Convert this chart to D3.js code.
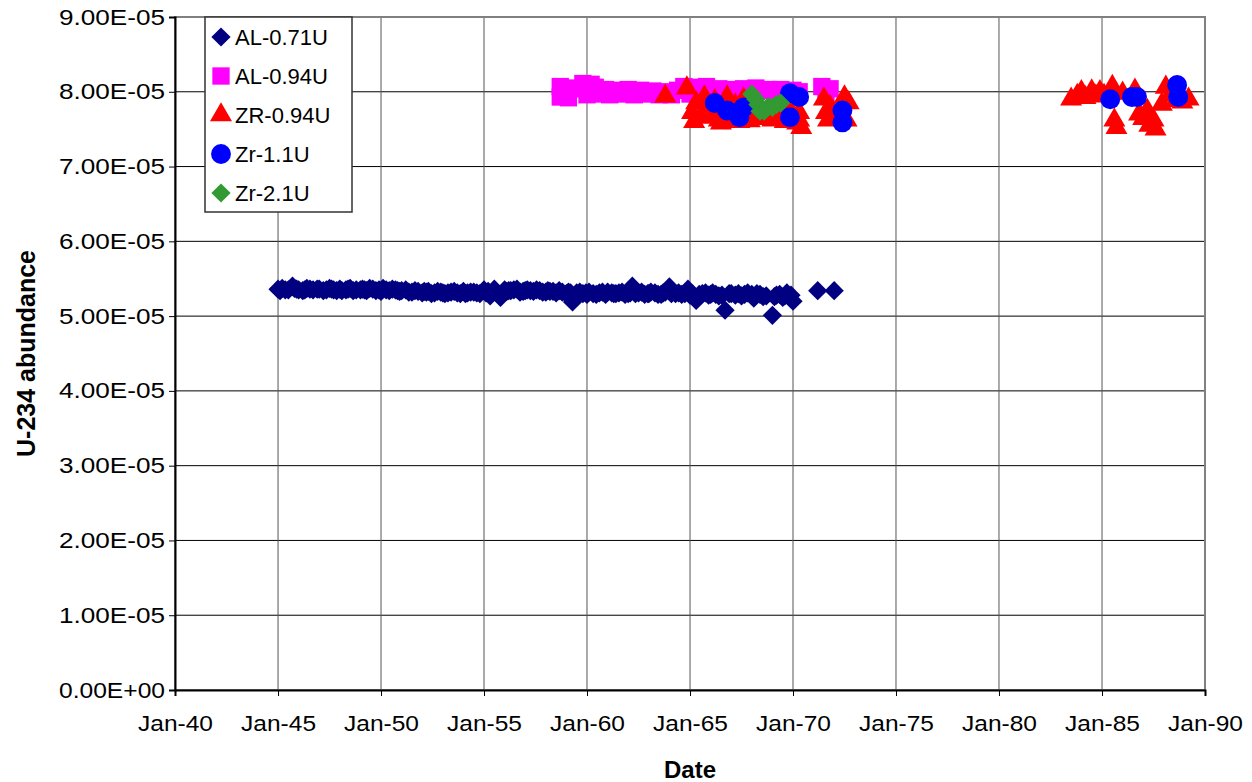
<!DOCTYPE html>
<html>
<head>
<meta charset="utf-8">
<script src="https://cdn.jsdelivr.net/npm/d3@7/dist/d3.min.js"></script>
<style>
body { margin: 0; background: #fff; }
text { font-family: "Liberation Sans", Arial, sans-serif; fill: #000; }
</style>
</head>
<body>
<script>
// values are U-234 abundance in units of 1e-5, dates as decimal years
const al071Years = [
  1945.0, 1945.2, 1945.5, 1945.7, 1945.9, 1946.2, 1946.4, 1946.7, 1946.9, 1947.2,
  1947.5, 1947.7, 1948.0, 1948.3, 1948.5, 1948.8, 1949.1, 1949.3, 1949.6, 1949.9,
  1950.1, 1950.4, 1950.7, 1950.9, 1951.2, 1951.5, 1951.8, 1952.0, 1952.3, 1952.6,
  1952.9, 1953.1, 1953.4, 1953.7, 1954.0, 1954.2, 1954.5, 1954.8, 1955.0, 1955.3,
  1955.5, 1955.8, 1956.0, 1956.3, 1956.6, 1956.9, 1957.1, 1957.4, 1957.7, 1958.0,
  1958.2, 1958.5, 1958.8, 1959.0, 1959.3, 1959.5, 1959.8, 1960.1, 1960.3, 1960.6,
  1960.9, 1961.2, 1961.4, 1961.7, 1962.0, 1962.2, 1962.5, 1962.8, 1963.0, 1963.3,
  1963.6, 1963.8, 1964.0, 1964.3, 1964.6, 1964.9, 1965.1, 1965.3, 1965.6, 1965.9,
  1966.1, 1966.4, 1966.7, 1966.9, 1967.2, 1967.5, 1967.8, 1968.1, 1968.4, 1968.7,
  1969.0, 1969.2, 1969.5, 1969.7, 1970.0, 1971.2, 1972.0,
  1945.1, 1946.0, 1947.0, 1948.1, 1949.0, 1950.0, 1951.0, 1952.1, 1953.0, 1954.1,
  1955.1, 1956.1, 1957.0, 1958.1, 1959.1, 1960.0, 1961.0, 1962.1, 1963.1, 1964.1,
  1965.0, 1966.0, 1967.0, 1968.0, 1969.1, 1969.9,
  1945.35, 1945.8, 1946.3, 1946.55, 1947.35, 1947.6, 1947.85, 1948.4, 1948.65, 1949.2,
  1949.45, 1949.75, 1950.25, 1950.55, 1950.8, 1951.35, 1951.65, 1952.2, 1952.45, 1952.75,
  1953.25, 1953.55, 1953.85, 1954.35, 1954.65, 1955.2, 1955.65, 1956.2, 1956.45, 1956.75,
  1957.25, 1957.55, 1957.85, 1958.35, 1958.65, 1959.2, 1959.65, 1959.95, 1960.45, 1960.75,
  1961.3, 1961.55, 1961.85, 1962.35, 1962.65, 1962.95, 1963.45, 1963.7, 1964.45, 1964.75,
  1965.45, 1965.75, 1966.25, 1966.55, 1967.35, 1967.65, 1968.25, 1968.55, 1969.35, 1969.6
];
const al071Values = [
  5.36, 5.37, 5.35, 5.40, 5.36, 5.34, 5.37, 5.35, 5.36, 5.34,
  5.37, 5.35, 5.36, 5.35, 5.37, 5.35, 5.36, 5.34, 5.36, 5.35,
  5.37, 5.34, 5.35, 5.33, 5.35, 5.32, 5.33, 5.31, 5.33, 5.31,
  5.32, 5.30, 5.32, 5.31, 5.33, 5.31, 5.32, 5.30, 5.35, 5.27,
  5.36, 5.25, 5.35, 5.34, 5.36, 5.33, 5.35, 5.33, 5.34, 5.32,
  5.33, 5.31, 5.32, 5.30, 5.19, 5.31, 5.30, 5.32, 5.30, 5.31,
  5.29, 5.31, 5.30, 5.32, 5.30, 5.40, 5.31, 5.29, 5.30, 5.31,
  5.29, 5.32, 5.39, 5.30, 5.29, 5.36, 5.30, 5.21, 5.30, 5.28,
  5.31, 5.27, 5.08, 5.30, 5.28, 5.27, 5.31, 5.24, 5.29, 5.27,
  5.01, 5.28, 5.25, 5.31, 5.20, 5.34, 5.34,
  5.34, 5.35, 5.36, 5.34, 5.35, 5.33, 5.34, 5.33, 5.31, 5.30,
  5.31, 5.33, 5.34, 5.34, 5.32, 5.29, 5.32, 5.31, 5.32, 5.30,
  5.28, 5.29, 5.30, 5.29, 5.26, 5.28,
  5.35, 5.37, 5.35, 5.36, 5.35, 5.36, 5.34, 5.36, 5.34, 5.35,
  5.37, 5.34, 5.35, 5.36, 5.34, 5.32, 5.34, 5.32, 5.30, 5.33,
  5.31, 5.33, 5.30, 5.32, 5.31, 5.33, 5.30, 5.34, 5.35, 5.32,
  5.34, 5.35, 5.32, 5.33, 5.34, 5.31, 5.32, 5.31, 5.29, 5.32,
  5.30, 5.31, 5.29, 5.30, 5.32, 5.30, 5.29, 5.31, 5.31, 5.30,
  5.29, 5.31, 5.29, 5.28, 5.30, 5.29, 5.30, 5.26, 5.29, 5.27
];

const al094Years = [
  1958.7, 1958.7, 1959.0, 1959.1, 1959.5, 1959.8, 1960.0, 1960.2, 1960.4, 1960.6,
  1960.9, 1961.1, 1961.4, 1961.7, 1962.0, 1962.3, 1962.6, 1962.9, 1963.2, 1963.5,
  1963.8, 1964.1, 1964.4, 1964.7, 1965.0, 1965.2, 1965.5, 1965.8, 1966.1, 1966.4,
  1966.7, 1967.0, 1967.3, 1967.6, 1967.9, 1968.2, 1968.5, 1968.8, 1969.1, 1969.4,
  1969.7, 1970.0, 1970.3, 1971.4, 1971.6, 1971.8
];
const al094Values = [
  8.07, 7.93, 8.05, 7.92, 8.04, 8.11, 7.96, 8.10, 8.06, 7.97,
  8.03, 7.96, 8.02, 7.97, 8.03, 7.96, 8.02, 7.97, 8.01, 7.96,
  8.00, 7.96, 8.02, 8.07, 7.97, 8.06, 8.01, 8.07, 8.02, 8.04,
  7.98, 8.03, 8.00, 8.04, 8.01, 8.05, 8.02, 8.03, 8.00, 8.03,
  8.01, 8.02, 8.00, 8.07, 7.95, 8.04
];

const zr094Years = [
  1963.8, 1964.85,
  1965.1, 1965.3, 1965.5, 1965.7, 1965.8, 1966.0, 1966.2, 1966.4, 1966.6, 1966.8,
  1967.0, 1967.2, 1967.4, 1967.6, 1967.8, 1968.0, 1968.2, 1968.5, 1968.7, 1969.0,
  1969.2, 1969.5, 1969.8, 1970.0, 1970.2, 1970.3, 1970.4,
  1965.2, 1965.9, 1966.5, 1967.1, 1967.9, 1968.9, 1969.6, 1970.3,
  1971.5, 1971.6, 1971.7, 1971.8, 1972.3, 1972.5, 1972.6, 1972.7,
  1983.5, 1983.8, 1984.0, 1984.2, 1984.5, 1984.7, 1984.9, 1985.1, 1985.5, 1985.6,
  1985.7, 1986.0, 1986.6, 1986.8, 1987.0, 1987.2, 1987.3, 1987.5, 1987.6, 1987.9,
  1988.1, 1988.3, 1988.6, 1988.9, 1989.2
];
const zr094Values = [
  7.94, 8.05,
  7.72, 7.85, 7.66, 7.93, 7.78, 7.70, 7.88, 7.62, 7.75, 7.93,
  7.68, 7.82, 7.60, 7.90, 7.72, 7.64, 7.78, 7.66, 7.72, 7.62,
  7.75, 7.68, 7.78, 7.64, 7.58, 7.72, 7.52,
  7.60, 7.66, 7.58, 7.62, 7.61, 7.64, 7.60, 7.62,
  7.90, 7.72, 7.62, 7.80, 7.75, 7.93, 7.62, 7.85,
  7.90, 7.95, 8.00, 7.92, 8.01, 7.94, 8.00, 7.95, 8.07, 7.62,
  7.52, 7.98, 8.02, 7.70, 7.64, 7.75, 7.55, 7.62, 7.50, 7.83,
  8.06, 7.95, 7.88, 7.86, 7.90
];

const zr11Years = [
  1966.2, 1966.8, 1967.4, 1967.6, 1969.85, 1970.3, 1969.85, 1972.4, 1972.4,
  1985.4, 1986.45, 1986.7, 1988.65, 1988.7
];
const zr11Values = [
  7.85, 7.75, 7.66, 7.79, 7.98, 7.93, 7.66, 7.75, 7.59,
  7.90, 7.93, 7.93, 8.09, 7.93
];

const zr21Years = [1968.0, 1968.2, 1968.3, 1968.6, 1968.4, 1968.8, 1969.0, 1969.2, 1969.4];
const zr21Values = [7.97, 7.90, 7.83, 7.74, 7.74, 7.80, 7.79, 7.83, 7.85];

const seriesNames = ["AL-0.71U", "AL-0.94U", "ZR-0.94U", "Zr-1.1U", "Zr-2.1U"];
const seriesColors = ["#000080", "#ff00ff", "#ff0000", "#0000ff", "#339933"];
const seriesShapes = ["diamond", "square", "triangle", "circle", "diamond"];

const yTickValues = [0, 1, 2, 3, 4, 5, 6, 7, 8, 9];
const xTickYears = [1940, 1945, 1950, 1955, 1960, 1965, 1970, 1975, 1980, 1985, 1990];

const width = 1252, height = 782;
const plotLeft = 175, plotRight = 1205, plotTop = 17, plotBottom = 690;

const toDate = yr => {
  const whole = Math.floor(yr);
  return new Date(whole, 0, 1 + Math.round((yr - whole) * 365));
};

const series = seriesNames.map((name, i) => {
  const yrs = [al071Years, al094Years, zr094Years, zr11Years, zr21Years][i];
  const vals = [al071Values, al094Values, zr094Values, zr11Values, zr21Values][i];
  return {
    name,
    color: seriesColors[i],
    shape: seriesShapes[i],
    points: yrs.map((yr, j) => ({ date: toDate(yr), value: vals[j] * 1e-5 }))
  };
});

const x = d3.scaleTime()
  .domain([new Date(1940, 0, 1), new Date(1990, 0, 1)])
  .range([plotLeft, plotRight]);
const y = d3.scaleLinear()
  .domain([0, 9e-5])
  .range([plotBottom, plotTop]);

const svg = d3.select("body").append("svg")
  .attr("width", width)
  .attr("height", height);

// gridlines
svg.append("g")
  .selectAll("line")
  .data(yTickValues.slice(1))
  .enter().append("line")
  .attr("x1", plotLeft).attr("x2", plotRight)
  .attr("y1", d => y(d * 1e-5)).attr("y2", d => y(d * 1e-5))
  .attr("stroke", "#000").attr("stroke-width", 1);

svg.append("g")
  .selectAll("line")
  .data(xTickYears.slice(1))
  .enter().append("line")
  .attr("x1", d => x(new Date(d, 0, 1))).attr("x2", d => x(new Date(d, 0, 1)))
  .attr("y1", plotTop).attr("y2", plotBottom)
  .attr("stroke", "#555").attr("stroke-width", 1);

// plot border
svg.append("rect")
  .attr("x", plotLeft).attr("y", plotTop)
  .attr("width", plotRight - plotLeft).attr("height", plotBottom - plotTop)
  .attr("fill", "none").attr("stroke", "#808080").attr("stroke-width", 2);

const sciFormat = d => {
  const [m, e] = d.toExponential(2).split("e");
  const n = Math.abs(+e);
  return m + "E" + (+e < 0 ? "-" : "+") + (n < 10 ? "0" + n : n);
};

const yAxis = svg.append("g")
  .attr("transform", `translate(${plotLeft},0)`)
  .call(d3.axisLeft(y)
    .tickValues(yTickValues.map(v => v * 1e-5))
    .tickFormat(sciFormat)
    .tickSize(6)
    .tickPadding(4));
yAxis.select(".domain").attr("stroke", "#000").attr("stroke-width", 2);
yAxis.selectAll("text")
  .style("font-size", "22px")
  .attr("textLength", 106)
  .attr("lengthAdjust", "spacingAndGlyphs");

const xAxis = svg.append("g")
  .attr("transform", `translate(0,${plotBottom})`)
  .call(d3.axisBottom(x)
    .tickValues(xTickYears.map(yr => new Date(yr, 0, 1)))
    .tickFormat(d3.timeFormat("Jan-%y"))
    .tickSize(6)
    .tickPadding(19));
xAxis.select(".domain").attr("stroke", "#000").attr("stroke-width", 2);
xAxis.selectAll("text")
  .style("font-size", "22px")
  .attr("textLength", 75)
  .attr("lengthAdjust", "spacingAndGlyphs");

// axis titles
svg.append("text")
  .attr("x", (plotLeft + plotRight) / 2)
  .attr("y", 778)
  .attr("text-anchor", "middle")
  .style("font-size", "24px")
  .style("font-weight", "bold")
  .text("Date");

svg.append("text")
  .attr("transform", `translate(35,${(plotTop + plotBottom) / 2}) rotate(-90)`)
  .attr("text-anchor", "middle")
  .style("font-size", "25px")
  .style("font-weight", "bold")
  .text("U-234 abundance");

const symbolPath = shape => {
  if (shape === "diamond") return d3.symbol().type(d3.symbolSquare).size(185)();
  if (shape === "square") return d3.symbol().type(d3.symbolSquare).size(300)();
  if (shape === "triangle") return d3.symbol().type(d3.symbolTriangle).size(210)();
  return d3.symbol().type(d3.symbolCircle).size(310)();
};
const rot = shape => (shape === "diamond" ? " rotate(45)" : "");

// markers
series.forEach(s => {
  svg.append("g")
    .selectAll("path")
    .data(s.points)
    .enter().append("path")
    .attr("d", symbolPath(s.shape))
    .attr("transform", d => `translate(${x(d.date)},${y(d.value)})${rot(s.shape)}`)
    .attr("fill", s.color);
});

// legend
const legend = svg.append("g").attr("transform", "translate(205,17)");
legend.append("rect")
  .attr("width", 147).attr("height", 195)
  .attr("fill", "#fff").attr("stroke", "#333").attr("stroke-width", 1.5);
const items = legend.selectAll("g.item")
  .data(series)
  .enter().append("g")
  .attr("class", "item")
  .attr("transform", (d, i) => `translate(0,${20 + i * 39})`);
items.append("path")
  .attr("d", d => symbolPath(d.shape))
  .attr("transform", d => `translate(16,0)${rot(d.shape)}`)
  .attr("fill", d => d.color);
items.append("text")
  .attr("x", 30)
  .attr("dy", "0.36em")
  .style("font-size", "22px")
  .text(d => d.name);
</script>
</body>
</html>
